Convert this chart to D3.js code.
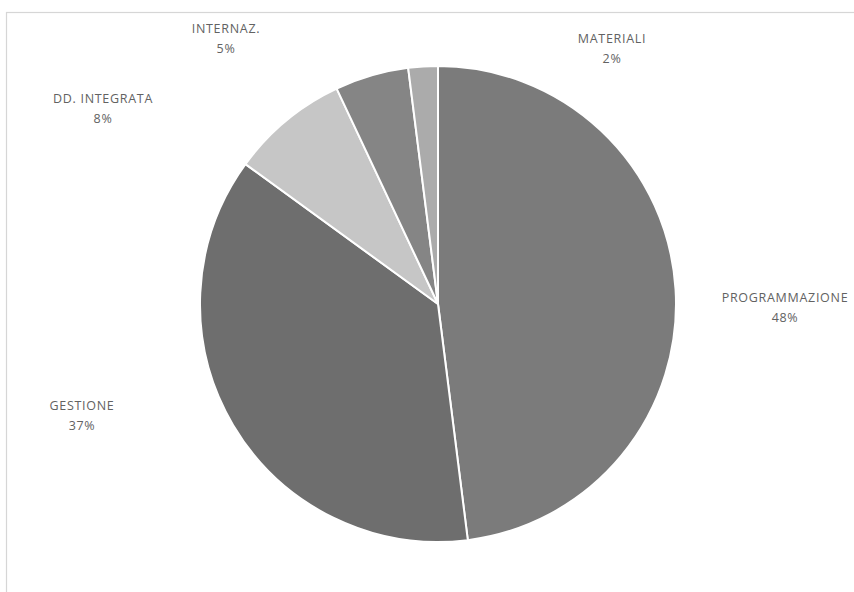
<!DOCTYPE html>
<html>
<head>
<meta charset="utf-8">
<script src="https://cdn.jsdelivr.net/npm/d3@7"></script>
<style>
  html, body { margin: 0; padding: 0; background: #fff; }
  svg { display: block; }
  text { font-family: "Open Sans", "Liberation Sans", sans-serif; }
</style>
</head>
<body>
<svg id="chart" width="854" height="592"></svg>
<script>
// Share of activities (percent)
const categories = ["PROGRAMMAZIONE", "GESTIONE", "DD. INTEGRATA", "INTERNAZ.", "MATERIALI"];
const values = [48, 37, 8, 5, 2];
const sliceColors = ["#7b7b7b", "#6e6e6e", "#c6c6c6", "#858585", "#ababab"];

// Label anchors: horizontal centre and first-line baseline
const labelPos = [[785, 302], [82, 410], [103, 103], [226, 33], [612, 43]];

const svg = d3.select("#chart");
const cx = 438, cy = 304, r = 238;

// Chart area frame
svg.append("rect")
  .attr("x", 6.5).attr("y", 12.5)
  .attr("width", 870).attr("height", 640)
  .attr("fill", "none")
  .attr("stroke", "#d6d6d6")
  .attr("stroke-width", 1.2);

const data = categories.map((c, i) => ({ name: c, value: values[i], color: sliceColors[i], pos: labelPos[i] }));

const pie = d3.pie().value(d => d.value).sort(null);
const arc = d3.arc().innerRadius(0).outerRadius(r);

const g = svg.append("g").attr("transform", `translate(${cx},${cy})`);
g.selectAll("path")
  .data(pie(data))
  .join("path")
  .attr("d", arc)
  .attr("fill", d => d.data.color)
  .attr("stroke", "#fff")
  .attr("stroke-width", 2)
  .attr("stroke-linejoin", "round");

const total = d3.sum(values);
const labels = svg.append("g");
data.forEach(d => {
  const t = labels.append("text")
    .attr("x", d.pos[0]).attr("y", d.pos[1])
    .attr("text-anchor", "middle")
    .attr("fill", "#626262")
    .attr("font-size", 12.5)
    .attr("letter-spacing", 0.7);
  t.append("tspan").attr("x", d.pos[0]).text(d.name);
  t.append("tspan").attr("x", d.pos[0]).attr("dy", 20).text(Math.round(d.value / total * 100) + "%");
});
</script>
</body>
</html>
